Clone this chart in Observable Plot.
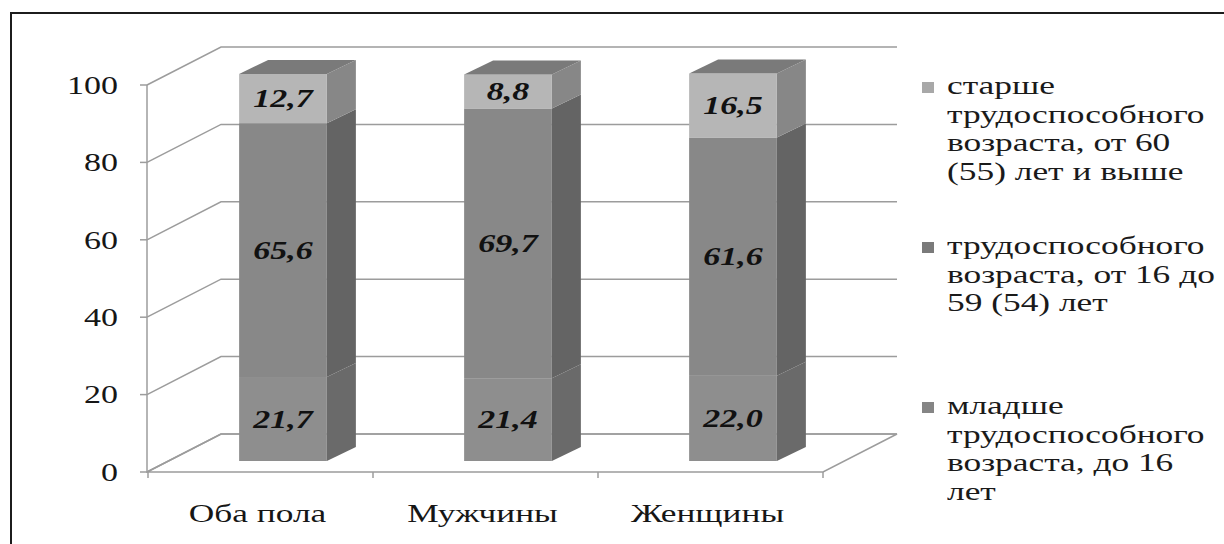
<!DOCTYPE html>
<html><head><meta charset="utf-8">
<script src="https://cdn.jsdelivr.net/npm/d3@7"></script>
<script src="https://cdn.jsdelivr.net/npm/@observablehq/plot@0.6"></script>
<style>
body{margin:0;background:#fff;}
#wrap{position:relative;width:1224px;height:544px;overflow:hidden;background:#fff;}
#frame{position:absolute;left:10px;top:12px;width:1260px;height:600px;border-top:2.5px solid #1c1c1c;border-left:2.5px solid #1c1c1c;}
#chart{position:absolute;left:0;top:0;}
#legend{position:absolute;left:0;top:0;font-family:"Liberation Serif","Times New Roman",serif;font-size:26px;color:#1a1a1a;}
.entry{position:absolute;left:922px;}
.sw{position:absolute;left:0;top:10px;width:12px;height:11px;}
.txt{position:absolute;left:25px;top:0;line-height:28.6px;white-space:pre;transform:scaleX(1.36);transform-origin:0 0;}
</style></head>
<body>
<div id="wrap">
  <div id="frame"></div>
  <div id="chart"></div>
  <div id="legend"></div>
</div>
<script>
// ---- data ----
const categories = ["Оба пола", "Мужчины", "Женщины"];
const seriesNames = [
  "младше трудоспособного возраста, до 16 лет",
  "трудоспособного возраста, от 16 до 59 (54) лет",
  "старше трудоспособного возраста, от 60 (55) лет и выше"
];
const legendLines = [
  "младше\nтрудоспособного\nвозраста, до 16\nлет",
  "трудоспособного\nвозраста, от 16 до\n59 (54) лет",
  "старше\nтрудоспособного\nвозраста, от 60\n(55) лет и выше"
];
const younger = [21.7, 21.4, 22.0];
const working = [65.6, 69.7, 61.6];
const older = [12.7, 8.8, 16.5];
const yTicks = [0, 20, 40, 60, 80, 100];

// ---- styles ----
const frontColors = ["#8e8e8e", "#888888", "#b6b6b6"];
const sideColors = ["#6a6a6a", "#646464", "#878787"];
const topColor = "#7a7a7a";
const swatchColors = ["#858585", "#7a7a7a", "#a8a8a8"];
const gridColor = "#9c9c9c";
const SERIF = '"Liberation Serif", "Times New Roman", serif';
const STRETCH = 1.36;
const DX = 74, DY = -38;       // depth of wall / floor
const FDX = 22.5, FDY = -11;   // bar front face offset
const BDX = 29, BDY = -14;     // bar depth

const seriesValues = [younger, working, older];
const rows = [];
categories.forEach((c, i) => {
  let acc = 0;
  seriesNames.forEach((s, k) => {
    const v = seriesValues[k][i];
    rows.push({cat: c, series: s, k, value: v, y1: acc, y2: acc + v});
    acc += v;
  });
});

function bw(x) { return typeof x.bandwidth === "function" ? x.bandwidth() : x.bandwidth; }

function wallMark(index, {x, y}, values, dims) {
  const g = d3.create("svg:g").attr("fill", "none").attr("stroke", gridColor).attr("stroke-width", 1.5);
  const x0 = dims.marginLeft, x1 = dims.width - dims.marginRight;
  const y0 = y(0);
  g.append("path").attr("fill", "#fff")
    .attr("d", `M${x0},${y0}L${x1},${y0}L${x1 + DX},${y0 + DY}L${x0 + DX},${y0 + DY}Z`);
  for (const t of yTicks) {
    const yy = y(t);
    g.append("path").attr("d", `M${x0},${yy}L${x0 + DX},${yy + DY}L${x1 + DX},${yy + DY}`);
    g.append("path").attr("d", `M${x0 - 7},${yy}L${x0},${yy}`);
  }
  g.append("path").attr("d", `M${x0},${y(0) + 1}L${x0},${y(100)}`);
  const step = bw(x);
  categories.forEach((c, i) => {
    const xx = x(c);
    g.append("path").attr("d", `M${xx},${y0}L${xx},${y0 + 6}`);
    if (i === categories.length - 1) g.append("path").attr("d", `M${xx + step},${y0}L${xx + step},${y0 + 6}`);
  });
  return g.node();
}

function barsMark(index, {x, y}, values, dims) {
  const g = d3.create("svg:g");
  const step = bw(x);
  const w = step * 0.39;
  for (const r of rows) {
    const cx = x(r.cat) + step / 2 + FDX;
    const xl = cx - w / 2, xr = cx + w / 2;
    const yt = y(r.y2) + FDY, yb = y(r.y1) + FDY;
    g.append("path").attr("fill", sideColors[r.k])
      .attr("d", `M${xr},${yt}L${xr + BDX},${yt + BDY}L${xr + BDX},${yb + BDY}L${xr},${yb}Z`);
    g.append("rect").attr("x", xl).attr("y", yt).attr("width", w).attr("height", yb - yt).attr("fill", frontColors[r.k]);
    if (r.k === seriesNames.length - 1) {
      g.append("path").attr("fill", topColor)
        .attr("d", `M${xl},${yt}L${xl + BDX},${yt + BDY}L${xr + BDX},${yt + BDY}L${xr},${yt}Z`);
    }
  }
  return g.node();
}

// text drawn with the (horizontally stretched) look of the scanned original
function stretchedText(data, {px, py, text, size, weight = "normal", style = "normal", anchor = "middle", fill = "#1a1a1a"}) {
  return (index, scales, values, dims) => {
    const g = d3.create("svg:g")
      .attr("font-family", SERIF).attr("font-size", size).attr("font-weight", weight)
      .attr("font-style", style).attr("fill", fill).attr("text-anchor", anchor);
    for (const d of data) {
      g.append("g")
        .attr("transform", `translate(${px(d, scales, dims)},${py(d, scales, dims)}) scale(${STRETCH},1)`)
        .append("text").attr("dy", "0.35em").text(text(d));
    }
    return g.node();
  };
}

const chart = Plot.plot({
  width: 1224,
  height: 544,
  marginLeft: 147,
  marginRight: 401,
  marginTop: 85,
  marginBottom: 72,
  style: {background: "transparent", overflow: "visible"},
  x: {type: "band", domain: categories, padding: 0, axis: null},
  y: {domain: [0, 100], axis: null},
  marks: [
    wallMark,
    barsMark,
    stretchedText(yTicks, {
      px: (d, s, dims) => dims.marginLeft - 29,
      py: (d, {y}) => y(d),
      text: d => String(d), size: 25, anchor: "end", fill: "#161616"
    }),
    stretchedText(categories, {
      px: (d, {x}) => x(d) + bw(x) / 2 - 3,
      py: (d, {y}) => y(0) + 41,
      text: d => d, size: 26, fill: "#161616"
    }),
    stretchedText(rows, {
      px: (d, {x}) => x(d.cat) + bw(x) / 2 + FDX,
      py: (d, {y}) => y((d.y1 + d.y2) / 2) + FDY,
      text: d => d.value.toFixed(1).replace(".", ","),
      size: 25, weight: "bold", style: "italic", fill: "#111"
    })
  ]
});
document.getElementById("chart").appendChild(chart);

// legend (top entry = top segment)
const legend = document.getElementById("legend");
const tops = [392, 232, 72];
seriesNames.forEach((s, k) => {
  const e = document.createElement("div");
  e.className = "entry";
  e.style.top = tops[k] + "px";
  e.title = s;
  const sw = document.createElement("div");
  sw.className = "sw";
  sw.style.background = swatchColors[k];
  const t = document.createElement("div");
  t.className = "txt";
  t.textContent = legendLines[k];
  e.appendChild(sw); e.appendChild(t);
  legend.appendChild(e);
});
</script>
</body></html>
